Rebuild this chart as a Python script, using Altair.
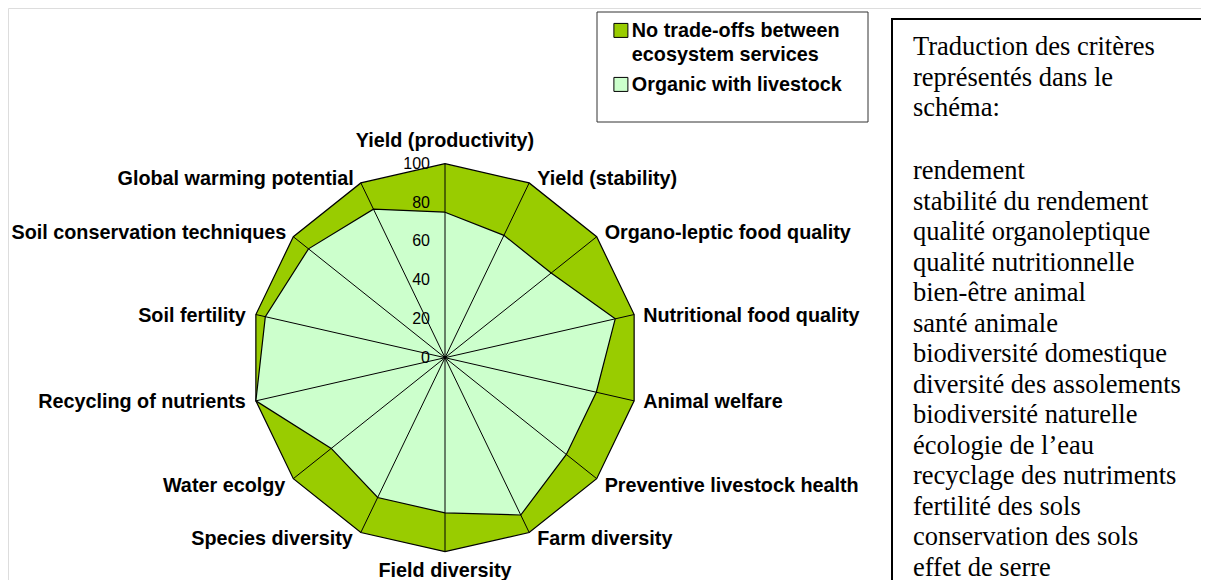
import altair as alt
import pandas as pd

criteria = [
    "Yield (productivity)", "Yield (stability)", "Organo-leptic food quality",
    "Nutritional food quality", "Animal welfare", "Preventive livestock health",
    "Farm diversity", "Field diversity", "Species diversity", "Water ecolgy",
    "Recycling of nutrients", "Soil fertility", "Soil conservation techniques",
    "Global warming potential",
]
series_names = ["No trade-offs between ecosystem services", "Organic with livestock"]
no_tradeoffs = [100, 100, 100, 100, 100, 100, 100, 100, 100, 100, 100, 100, 100, 100]
organic = [75, 70, 70, 90, 80, 80, 90, 80, 80, 75, 100, 95, 90, 85]
series_colors = ["#99CC00", "#CCFFCC"]
tick_values = [0, 20, 40, 60, 80, 100]
translation_title = ["Traduction des critères", "représentés dans le", "schéma:"]
translations = [
    "rendement", "stabilité du rendement", "qualité organoleptique",
    "qualité nutritionnelle", "bien-être animal", "santé animale",
    "biodiversité domestique", "diversité des assolements",
    "biodiversité naturelle", "écologie de l’eau", "recyclage des nutriments",
    "fertilité des sols", "conservation des sols", "effet de serre",
]

n = len(criteria)
rows = []
for name, vals in zip(series_names, [no_tradeoffs, organic]):
    for k in range(n + 1):
        i = k % n
        rows.append({"series": name, "k": k, "idx": i, "criterion": criteria[i], "value": vals[i]})
poly_df = pd.DataFrame(rows)
crit_df = pd.DataFrame({"idx": list(range(n)), "criterion": criteria, "value": no_tradeoffs})
tick_df = pd.DataFrame({"v": tick_values, "label": [str(t) for t in tick_values]})

W, H = 1193, 572
xs = alt.Scale(domain=[-225.26, 389.69], nice=False, zero=False)
ys = alt.Scale(domain=[-114.59, 180.26], nice=False, zero=False)


def to_xy(ch):
    return ch.transform_calculate(angle=f"datum.idx * 2 * PI / {n}").transform_calculate(
        px="datum.value * sin(datum.angle)",
        py="datum.value * cos(datum.angle)",
        zero="0",
    )


fill_enc = alt.Fill(
    "series:N",
    scale=alt.Scale(domain=series_names, range=series_colors),
    legend=alt.Legend(
        title=None, orient="none", legendX=603, legendY=3,
        symbolType="M-1,0.36H1V2.36H-1Z", symbolSize=196, symbolStrokeColor="black",
        symbolStrokeWidth=1, symbolOpacity=1,
        labelFont="Liberation Sans", labelFontWeight="bold", labelFontSize=19.8,
        labelColor="black", labelLimit=400, labelOffset=1, labelBaseline="top",
        rowPadding=0,
        labelExpr="split(replace(datum.label, 'between ', 'between|'), '|')",
    ),
)

polys = []
for name in series_names:
    polys.append(
        to_xy(alt.Chart(poly_df).transform_filter(alt.datum.series == name))
        .mark_line(stroke="black", strokeWidth=1.2)
        .encode(
            x=alt.X("px:Q", scale=xs, axis=None),
            y=alt.Y("py:Q", scale=ys, axis=None),
            order="k:Q",
            fill=fill_enc,
        )
    )

spokes = to_xy(alt.Chart(crit_df)).mark_rule(color="black", strokeWidth=1).encode(
    x=alt.X("zero:Q", scale=xs, axis=None),
    y=alt.Y("zero:Q", scale=ys, axis=None),
    x2="px:Q", y2="py:Q",
)

ticks = alt.Chart(tick_df).transform_calculate(zero="0").mark_text(
    align="right", baseline="middle", dx=-15, fontSize=16,
    font="Liberation Sans", color="black",
).encode(
    x=alt.X("zero:Q", scale=xs, axis=None),
    y=alt.Y("v:Q", scale=ys, axis=None),
    text="label:N",
)

groups = [
    ([0], "center", 0, -23), ([7], "center", 0, 19),
    ([1, 2], "left", 8, -4), ([3, 4], "left", 9, 1), ([5, 6], "left", 8, 7),
    ([12, 13], "right", -7, -4), ([10, 11], "right", -10, 1), ([8, 9], "right", -8, 7),
]
labels = []
for ids, al, dx, dy in groups:
    labels.append(
        to_xy(alt.Chart(crit_df).transform_filter(alt.FieldOneOfPredicate(field="idx", oneOf=ids)))
        .mark_text(align=al, baseline="middle", dx=dx, dy=dy, fontSize=19.8,
                   fontWeight="bold", font="Liberation Sans", color="black")
        .encode(
            x=alt.X("px:Q", scale=xs, axis=None),
            y=alt.Y("py:Q", scale=ys, axis=None),
            text="criterion:N",
        )
    )

one = pd.DataFrame({"a": [0]})
legend_box = alt.Chart(one).mark_rect(fill="white", stroke="#333333", strokeWidth=1).encode(
    x=alt.value(589), x2=alt.value(860), y=alt.value(4), y2=alt.value(114)
)
text_box = alt.Chart(one).mark_rect(fill="white", stroke="black", strokeWidth=2).encode(
    x=alt.value(884), x2=alt.value(1220), y=alt.value(11), y2=alt.value(600)
)
text_style = dict(align="left", baseline="alphabetic", lineHeight=30.5,
                  font="Liberation Serif", fontSize=26.5, color="black")
title_lines = alt.Chart(one).mark_text(text=translation_title, **text_style).encode(
    x=alt.value(905), y=alt.value(47)
)
list_lines = alt.Chart(one).mark_text(text=translations, **text_style).encode(
    x=alt.value(905), y=alt.value(171)
)

chart = alt.layer(
    legend_box, text_box, title_lines, list_lines, *polys, spokes, ticks, *labels
).properties(
    width=W, height=H, autosize=alt.AutoSizeParams(type="none"), padding=0,
).configure_view(stroke=None).configure(style={"guide-label": {"lineHeight": 24}})

chart.save("out.html", embed_options={"renderer": "svg", "actions": False})
